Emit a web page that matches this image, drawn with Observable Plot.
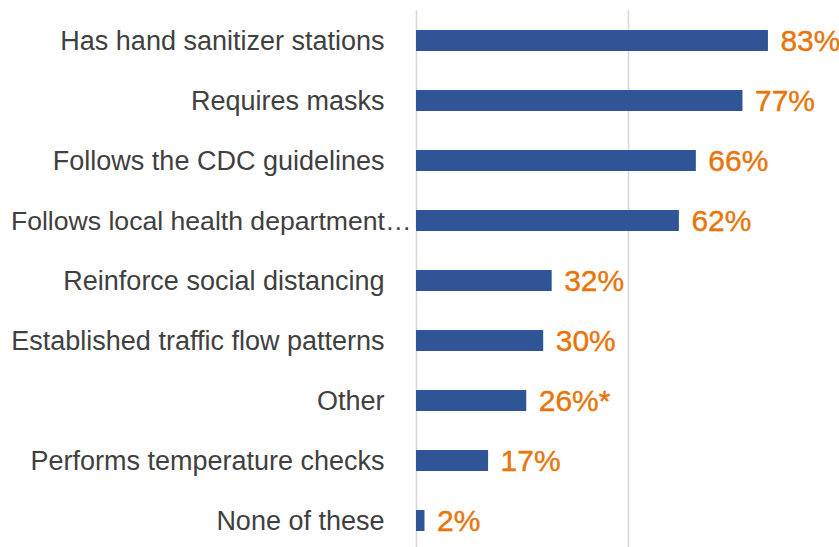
<!DOCTYPE html>
<html>
<head>
<meta charset="utf-8">
<script src="https://cdn.jsdelivr.net/npm/d3@7"></script>
<script src="https://cdn.jsdelivr.net/npm/@observablehq/plot@0.6"></script>
<style>
  html, body { margin: 0; padding: 0; background: #fff; }
  #chart svg { display: block; }
</style>
</head>
<body>
<div id="chart"></div>
<script>
const categories = [
  "Has hand sanitizer stations",
  "Requires masks",
  "Follows the CDC guidelines",
  "Follows local health department…",
  "Reinforce social distancing",
  "Established traffic flow patterns",
  "Other",
  "Performs temperature checks",
  "None of these"
];
const values = [83, 77, 66, 62, 32, 30, 26, 17, 2];
const valueLabels = ["83%", "77%", "66%", "62%", "32%", "30%", "26%*", "17%", "2%"];
const gridTicks = [0, 50, 100];

const data = categories.map((c, i) => ({category: c, value: values[i], label: valueLabels[i]}));
const isLong = d => d.category.endsWith("…");

const catText = {
  x: 0, y: "category", text: "category",
  textAnchor: "end", fill: "#404040"
};

const chart = Plot.plot({
  width: 839,
  height: 547,
  marginTop: 10,
  marginBottom: 0,
  marginLeft: 416,
  marginRight: 0,
  style: {fontFamily: "'Liberation Sans', Arial, sans-serif", background: "#fff"},
  x: {domain: [0, 100], range: [416, 840], axis: null},
  y: {domain: categories, range: [12, 549.6], paddingInner: 0.65, paddingOuter: 0.3, axis: null},
  marks: [
    Plot.ruleX(gridTicks, {stroke: "#d9d9d9", strokeWidth: 1.6}),
    Plot.barX(data, {x: "value", y: "category", fill: "#2f5597"}),
    Plot.text(data.filter(d => !isLong(d)), {...catText, dx: -32, fontSize: 27}),
    Plot.text(data.filter(isLong), {...catText, dx: -5, fontSize: 26.6}),
    Plot.text(data, {
      x: "value", y: "category", text: "label",
      textAnchor: "start", dx: 12,
      fontSize: 30, fill: "#e8750a", stroke: "#e8750a", strokeWidth: 0.4
    })
  ]
});
document.getElementById("chart").appendChild(chart);
</script>
</body>
</html>
